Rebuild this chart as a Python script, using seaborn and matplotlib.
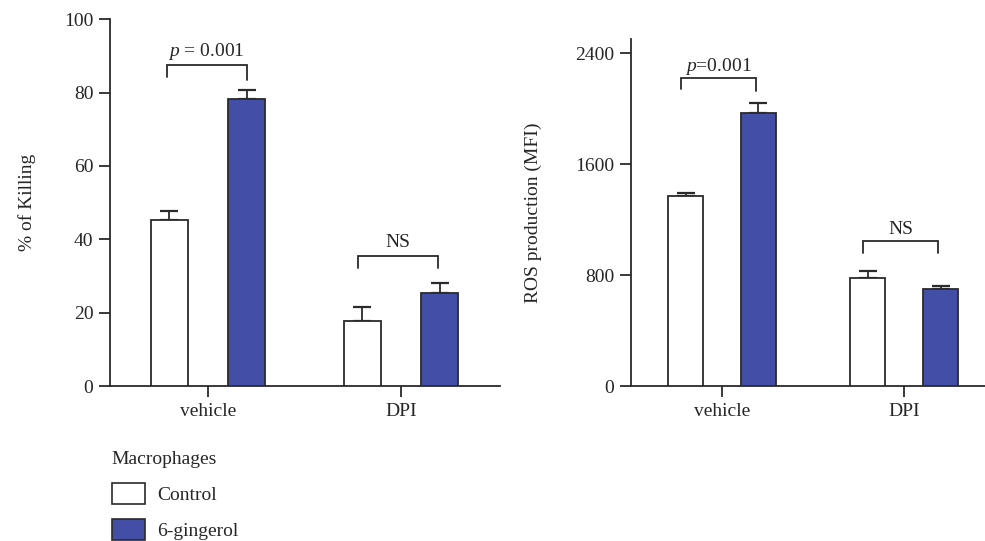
import numpy as np
import pandas as pd
import matplotlib
matplotlib.use("Agg")
import matplotlib.pyplot as plt
from matplotlib.patches import Patch
import seaborn as sns

# Data
treatments = ["vehicle", "DPI"]
groups = ["Control", "6-gingerol"]

killing_control = [45.3, 17.6]
killing_gingerol = [78.3, 25.3]
killing_control_err = [2.5, 4.0]
killing_gingerol_err = [2.3, 2.8]

ros_control = [1373, 781]
ros_gingerol = [1972, 700]
ros_control_err = [22, 51]
ros_gingerol_err = [72, 21]

killing_ticks = [0, 20, 40, 60, 80, 100]
ros_ticks = [0, 800, 1600, 2400]

killing_p_label = "$p$ = 0.001"
ros_p_label = "$p$=0.001"
ns_label = "NS"

sns.set_theme(style="ticks")
plt.rcParams["font.family"] = ["Liberation Serif", "DejaVu Serif"]
plt.rcParams["mathtext.fontset"] = "custom"
plt.rcParams["mathtext.it"] = "Liberation Serif:italic"
plt.rcParams["mathtext.rm"] = "Liberation Serif"

BLUE = "#434ea6"
EDGE = "#2a2a2a"
FS = 14


def make_frame(ctrl, ging):
    return pd.DataFrame({
        "treatment": treatments * 2,
        "group": [groups[0]] * 2 + [groups[1]] * 2,
        "value": list(ctrl) + list(ging),
    })


def draw_panel(ax, ctrl, ging, cerr, gerr, ylim, ticks, ylabel, labelpad):
    df = make_frame(ctrl, ging)
    sns.barplot(data=df, x="treatment", y="value", hue="group",
                hue_order=groups, order=treatments,
                palette={groups[0]: "white", groups[1]: BLUE},
                saturation=1, width=0.8, gap=0.52, errorbar=None,
                legend=False, edgecolor=EDGE, linewidth=1.3, ax=ax, zorder=3)
    # upward-only error bars centred on each bar
    bars = ax.patches
    means = list(ctrl) + list(ging)
    errs = list(cerr) + list(gerr)
    for b, m, e in zip(bars, means, errs):
        xc = b.get_x() + b.get_width() / 2
        ax.errorbar(xc, m, yerr=[[0], [e]], fmt="none", ecolor=EDGE,
                    elinewidth=1.3, capsize=6.5, capthick=1.6, zorder=2)
    ax.set_ylim(*ylim)
    ax.set_yticks(ticks)
    ax.set_xlabel("")
    ax.set_ylabel(ylabel, fontsize=FS, labelpad=labelpad)
    ax.tick_params(axis="both", labelsize=FS, length=8, width=1.3,
                   color=EDGE, pad=4)
    for s in ("left", "bottom"):
        ax.spines[s].set_linewidth(1.3)
        ax.spines[s].set_color(EDGE)
    sns.despine(ax=ax)
    return bars


def bracket(ax, x0, x1, y, yl, yr, text, ty):
    ax.plot([x0, x0, x1, x1], [yl, y, y, yr], color=EDGE, lw=1.3,
            solid_joinstyle="miter", zorder=4)
    ax.text((x0 + x1) / 2, ty, text, ha="center", va="center", fontsize=FS)


fig = plt.figure(figsize=(9.85, 5.41), dpi=100)
ax1 = fig.add_axes([0.1117, 0.2865, 0.3959, 0.6778])
ax2 = fig.add_axes([0.6403, 0.2865, 0.3597, 0.6409])

draw_panel(ax1, killing_control, killing_gingerol, killing_control_err,
           killing_gingerol_err, (0, 100), killing_ticks, "% of Killing", 20)
ax1.set_xlim(-0.508, 1.513)
bracket(ax1, -0.215, 0.2, 87.5, 84.3, 83.5, killing_p_label, 91.2)
bracket(ax1, 0.778, 1.19, 35.4, 32.2, 32.2, ns_label, 39.2)

draw_panel(ax2, ros_control, ros_gingerol, ros_control_err,
           ros_gingerol_err, (0, 2500), ros_ticks, "ROS production (MFI)", 24)
ax2.set_xlim(-0.501, 1.443)
bracket(ax2, -0.226, 0.187, 2224, 2140, 2130, ros_p_label, 2305)
bracket(ax2, -0.226 + 1, 0.187 + 1, 1044, 957, 957, ns_label, 1130)

handles = [Patch(facecolor="white", edgecolor=EDGE, linewidth=1.2),
           Patch(facecolor=BLUE, edgecolor=EDGE, linewidth=1.2)]
fig.legend(handles, groups, title="Macrophages", loc="upper left",
           bbox_to_anchor=(0.1134, 0.167), frameon=False, alignment="left",
           fontsize=FS, title_fontsize=FS, handlelength=1.7,
           handleheight=1.3, handletextpad=0.65, labelspacing=0.78,
           borderaxespad=0, borderpad=0)

fig.savefig("out.png", dpi=100)
